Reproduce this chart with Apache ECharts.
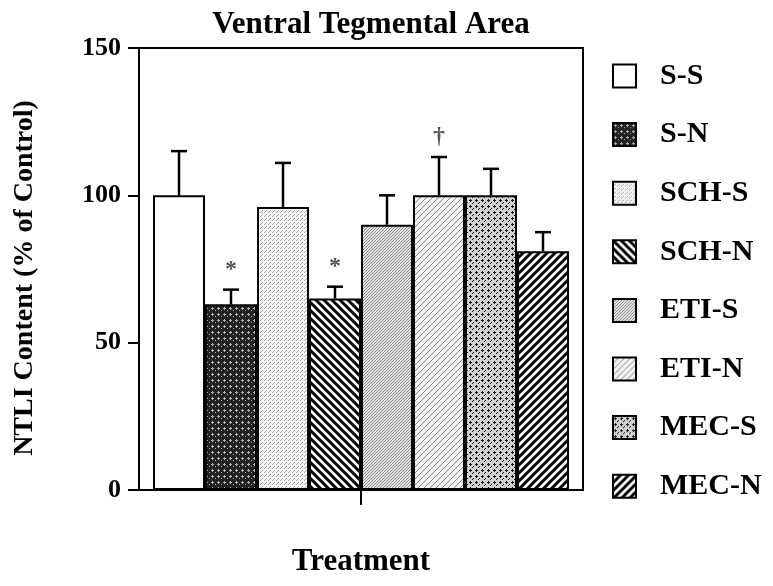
<!DOCTYPE html>
<html>
<head>
<meta charset="utf-8">
<script src="https://cdn.jsdelivr.net/npm/echarts@6/dist/echarts.min.js"></script>
<style>
  html, body { margin: 0; padding: 0; background: #fff; }
  #chart { width: 773px; height: 586px; }
</style>
</head>
<body>
<div id="chart"></div>
<script>
// data
var groups = ["S-S", "S-N", "SCH-S", "SCH-N", "ETI-S", "ETI-N", "MEC-S", "MEC-N"];
var means = [100, 63, 96, 65, 90, 100, 100, 81];
var sems = [15, 5, 15, 4, 10, 13, 9, 6.5];
var marks = ["", "*", "", "*", "", "\u2020", "", ""];
var yTicks = { min: 0, max: 150, step: 50 };

var FONT = "Liberation Serif";
var BAR_W = 52;

// little canvas tiles for the hatch fills
function tile(size, draw) {
  var c = document.createElement("canvas");
  c.width = size;
  c.height = size;
  var ctx = c.getContext("2d");
  draw(ctx, size);
  return { image: c, repeat: "repeat" };
}
function stripes(size, bg, fg, lw, dir) {
  return tile(size, function (ctx, s) {
    ctx.fillStyle = bg;
    ctx.fillRect(0, 0, s, s);
    ctx.strokeStyle = fg;
    ctx.lineWidth = lw;
    ctx.beginPath();
    if (dir === "up") {
      ctx.moveTo(-1, s + 1); ctx.lineTo(s + 1, -1);
      ctx.moveTo(-1, 1); ctx.lineTo(1, -1);
      ctx.moveTo(s - 1, s + 1); ctx.lineTo(s + 1, s - 1);
    } else {
      ctx.moveTo(-1, -1); ctx.lineTo(s + 1, s + 1);
      ctx.moveTo(s - 1, -1); ctx.lineTo(s + 1, 1);
      ctx.moveTo(-1, s - 1); ctx.lineTo(1, s + 1);
    }
    ctx.stroke();
  });
}
function dots(size, bg, fg, pts) {
  return tile(size, function (ctx, s) {
    ctx.fillStyle = bg;
    ctx.fillRect(0, 0, s, s);
    ctx.fillStyle = fg;
    pts.forEach(function (p) { ctx.fillRect(p[0], p[1], p[2] || 1, p[3] || 1); });
  });
}

var fills = [
  "#ffffff",
  dots(6, "#222222", "#b0b0b0", [[2, 1, 1, 3], [1, 2, 3, 1], [5, 4, 1, 1]]),
  dots(4, "#f4f4f4", "#a8a8a8", [[0, 0], [2, 2], [1, 3]]),
  stripes(8, "#ffffff", "#000000", 3, "down"),
  dots(3, "#e4e4e4", "#8a8a8a", [[0, 0], [1, 2], [2, 1]]),
  stripes(6, "#f2f2f2", "#8c8c8c", 1, "up"),
  dots(6, "#d0d0d0", "#1a1a1a", [[2, 1, 1, 3], [1, 2, 3, 1], [5, 4, 1, 1], [4, 5, 1, 1]]),
  stripes(8, "#ffffff", "#000000", 3, "up")
];

var series = groups.map(function (g, i) {
  return {
    name: g,
    type: "bar",
    data: [means[i]],
    barWidth: BAR_W,
    barGap: "0%",
    itemStyle: { color: fills[i], borderColor: "#000", borderWidth: 2 }
  };
});

var errData = means.map(function (m, i) { return [0, m, sems[i], i]; });

series.push({
  type: "custom",
  name: "err",
  data: errData,
  encode: { x: 0, y: 1 },
  z: 5,
  renderItem: function (params, api) {
    var v = api.value(1), e = api.value(2), i = api.value(3);
    var base = api.coord([0, v]);
    var top = api.coord([0, v + e]);
    var x = base[0] + (i - (groups.length - 1) / 2) * BAR_W;
    var kids = [
      { type: "line", shape: { x1: x, y1: base[1], x2: x, y2: top[1] }, style: { stroke: "#000", lineWidth: 2.5 } },
      { type: "line", shape: { x1: x - 8, y1: top[1], x2: x + 8, y2: top[1] }, style: { stroke: "#000", lineWidth: 2.5 } }
    ];
    if (marks[i]) {
      kids.push({
        type: "text",
        style: {
          text: marks[i], x: x, y: top[1] - 8,
          align: "center", verticalAlign: "bottom",
          font: "bold 24px '" + FONT + "'", fill: "#555"
        }
      });
    }
    return { type: "group", children: kids };
  }
});

var chart = echarts.init(document.getElementById("chart"));
chart.setOption({
  animation: false,
  backgroundColor: "#fff",
  title: {
    text: "Ventral Tegmental Area",
    left: 366,
    textAlign: "center",
    top: 4,
    textStyle: { fontFamily: FONT, fontWeight: "bold", fontSize: 31, color: "#000" }
  },
  legend: {
    data: groups,
    orient: "vertical",
    left: 612,
    top: 61,
    padding: 0,
    itemWidth: 23,
    itemHeight: 23,
    itemGap: 28.6,
    icon: "rect",
    itemStyle: { borderColor: "#000", borderWidth: 2 },
    textStyle: { fontFamily: FONT, fontWeight: "bold", fontSize: 30, color: "#000", lineHeight: 29, padding: [0, 0, 0, 19] }
  },
  grid: {
    left: 139, right: 190, top: 48, bottom: 96,
    show: true, borderColor: "#000", borderWidth: 2
  },
  xAxis: {
    type: "category",
    data: [""],
    name: "Treatment",
    nameLocation: "middle",
    nameGap: 56,
    nameTextStyle: { fontFamily: FONT, fontWeight: "bold", fontSize: 31, color: "#000" },
    axisLine: { lineStyle: { color: "#000", width: 2 } },
    axisTick: { show: true, alignWithLabel: true, interval: 0, length: 15, lineStyle: { color: "#000", width: 2 } },
    axisLabel: { show: true, interval: 0, formatter: function () { return ""; } }
  },
  yAxis: {
    type: "value",
    min: yTicks.min,
    max: yTicks.max,
    interval: yTicks.step,
    name: "NTLI Content (% of Control)",
    nameLocation: "middle",
    nameGap: 100,
    nameTextStyle: { fontFamily: FONT, fontWeight: "bold", fontSize: 28, color: "#000", padding: [0, 18, 0, 0] },
    axisLine: { show: true, lineStyle: { color: "#000", width: 2 } },
    axisTick: { show: true, length: 11, lineStyle: { color: "#000", width: 2 } },
    axisLabel: { margin: 18, fontFamily: FONT, fontWeight: "bold", fontSize: 26, color: "#000" },
    splitLine: { show: false }
  },
  series: series
});
</script>
</body>
</html>
